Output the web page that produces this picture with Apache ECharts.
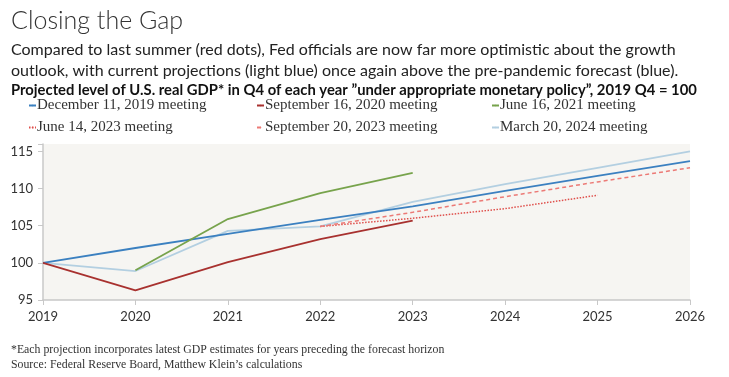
<!DOCTYPE html>
<html>
<head>
<meta charset="utf-8">
<script src="https://cdn.jsdelivr.net/npm/echarts@6/dist/echarts.min.js"></script>
<style>
html, body { margin: 0; padding: 0; background: #fff; }
#main { width: 729px; height: 377px; }
</style>
</head>
<body>
<div id="main"></div>
<script>
var years = ["2019", "2020", "2021", "2022", "2023", "2024", "2025", "2026"];
var dec2019 = [100, 102.0, 103.9, 105.8, 107.6, 109.7, 111.7, 113.7];
var sep2020 = [100, 96.3, 100.1, 103.2, 105.7, null, null, null];
var jun2021 = [null, 99.0, 105.9, 109.4, 112.1, null, null, null];
var jun2023 = [null, null, null, 104.9, 106.0, 107.3, 109.1, null];
var sep2023 = [null, null, null, 104.9, 106.8, 108.9, 110.9, 112.8];
var mar2024 = [100, 98.9, 104.3, 104.9, 108.2, 110.6, 112.8, 115.0];
var yTicks = [95, 100, 105, 110, 115];

var myChart = echarts.init(document.getElementById("main"));

var legendFont = { fontFamily: "Liberation Serif", fontSize: 15, color: "#333", padding: [0, 0, 0, -4] };

function legendAt(name, left, top) {
    return {
        data: [name],
        left: left,
        top: top,
        itemWidth: 7,
        itemHeight: 2,
        itemGap: 0,
        padding: 0,
        textStyle: legendFont,
        selectedMode: false,
    };
}

function line(name, data, color, type, width) {
    return {
        name: name,
        type: "line",
        data: data,
        symbol: "none",
        connectNulls: false,
        lineStyle: { color: color, width: width || 1.8, type: type || "solid" },
        itemStyle: { color: color },
    };
}

var option = {
    backgroundColor: "#fff",
    animation: false,
    title: [
        {
            text: "Closing the Gap",
            left: 6,
            top: 3,
            textStyle: { fontFamily: "Lato", fontWeight: 300, fontSize: 25, color: "#333" },
        },
        {
            text: "Compared to last summer (red dots), Fed officials are now far more optimistic about the growth\noutlook, with current projections (light blue) once again above the pre-pandemic forecast (blue).",
            left: 6,
            top: 34,
            textStyle: { fontFamily: "Lato", fontWeight: "normal", fontSize: 16, lineHeight: 21, color: "#222" },
        },
        {
            text: "Projected level of U.S. real GDP* in Q4 of each year \u201dunder appropriate monetary policy\u201d, 2019 Q4 = 100",
            left: 6,
            top: 78,
            textStyle: { fontFamily: "Lato", fontWeight: "bold", fontSize: 14.8, color: "#111" },
        },
        {
            text: "*Each projection incorporates latest GDP estimates for years preceding the forecast horizon\nSource: Federal Reserve Board, Matthew Klein\u2019s calculations",
            left: 6,
            top: 337,
            textStyle: { fontFamily: "Liberation Serif", fontWeight: "normal", fontSize: 11.8, lineHeight: 15, color: "#333" },
        },
    ],
    legend: [
        legendAt("December 11, 2019 meeting", 28, 98),
        legendAt("September 16, 2020 meeting", 256, 98),
        legendAt("June 16, 2021 meeting", 491, 98),
        legendAt("June 14, 2023 meeting", 28, 120),
        legendAt("September 20, 2023 meeting", 256, 120),
        legendAt("March 20, 2024 meeting", 491, 120),
    ],
    grid: {
        left: 43,
        right: 39,
        top: 144,
        bottom: 77,
        show: true,
        backgroundColor: "#f6f5f2",
        borderWidth: 0,
    },
    xAxis: {
        type: "category",
        data: years,
        boundaryGap: false,
        axisLine: { lineStyle: { color: "#c8c8c8", width: 1.5 } },
        axisTick: { show: true, length: 5, lineStyle: { color: "#c8c8c8" } },
        axisLabel: { fontFamily: "Lato", fontSize: 13, color: "#333", margin: 10, showMaxLabel: true },
        splitLine: { show: false },
    },
    yAxis: {
        type: "value",
        min: 95,
        max: 116,
        interval: 5,
        axisLine: { show: true, lineStyle: { color: "#c8c8c8", width: 1.5 } },
        axisTick: { show: true, length: 5, lineStyle: { color: "#c8c8c8" } },
        axisLabel: {
            fontFamily: "Lato",
            fontSize: 13,
            color: "#333",
            margin: 10,
            formatter: function (v) { return yTicks.indexOf(v) >= 0 ? String(v) : ""; },
        },
        splitLine: { show: false },
    },
    series: [
        line("March 20, 2024 meeting", mar2024, "#b3cfe1", "solid", 1.8),
        line("December 11, 2019 meeting", dec2019, "#3b80c0", "solid", 1.8),
        line("September 16, 2020 meeting", sep2020, "#a8312f", "solid", 1.8),
        line("June 16, 2021 meeting", jun2021, "#77a34c", "solid", 1.8),
        line("June 14, 2023 meeting", jun2023, "#df4f4b", [1.5, 1.5], 1.5),
        line("September 20, 2023 meeting", sep2023, "#ec7a76", [4, 3], 1.5),
    ],
};

myChart.setOption(option);
</script>
</body>
</html>
